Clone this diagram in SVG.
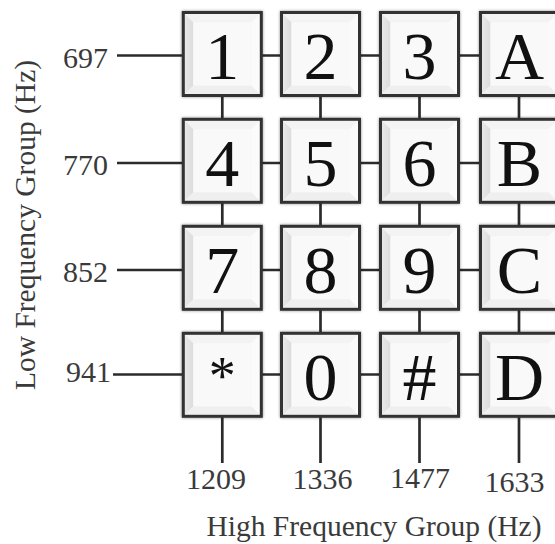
<svg xmlns="http://www.w3.org/2000/svg" xmlns:xlink="http://www.w3.org/1999/xlink" width="555" height="544" viewBox="0 0 555 544">
<style>
.ln{stroke:#2b2b2b;stroke-width:2.7;fill:none}
.key{font-family:"Liberation Serif","Times New Roman",serif;font-size:68px;fill:#111;text-anchor:middle}
.lbl{font-family:"Liberation Serif","Times New Roman",serif;font-size:30px;fill:#3a3a3a}
.ttl{font-family:"Liberation Serif","Times New Roman",serif;font-size:29.5px;fill:#3a3a3a}
</style>
<defs>
<linearGradient id="lg" x1="0" y1="0" x2="1" y2="0">
<stop offset="0" stop-color="#eaeaea"/><stop offset="1" stop-color="#dcdcdc"/>
</linearGradient>
<filter id="sh" x="-10%" y="-10%" width="120%" height="120%">
<feGaussianBlur in="SourceAlpha" stdDeviation="1.6"/>
<feComponentTransfer><feFuncA type="linear" slope="0.45"/></feComponentTransfer>
<feMerge><feMergeNode/><feMergeNode in="SourceGraphic"/></feMerge>
</filter>
<g id="box">
<g filter="url(#sh)">
<rect x="0" y="0" width="78" height="83" fill="#f7f7f7"/>
<polygon points="0,0 78,0 68,10 10,10" fill="#f3f3f3"/>
<polygon points="0,0 10,10 10,73 0,83" fill="url(#lg)"/>
<polygon points="78,0 78,83 68,73 68,10" fill="#fbfbfb"/>
<polygon points="0,83 78,83 68,73 10,73" fill="#efefef"/>
<rect x="10" y="10" width="58" height="63" fill="#f9f9f9"/>
<rect x="0" y="0" width="78" height="83" fill="none" stroke="#333" stroke-width="3"/>
</g>
</g>
</defs>
<rect width="555" height="544" fill="#ffffff"/>
<g id="connectors">
<line class="ln" x1="117" y1="55.5" x2="555" y2="55.5"/>
<line class="ln" x1="117" y1="163" x2="555" y2="163"/>
<line class="ln" x1="117" y1="270" x2="555" y2="270"/>
<line class="ln" x1="113" y1="374.5" x2="555" y2="374.5"/>
<line class="ln" x1="222.3" y1="90" x2="222.3" y2="463"/>
<line class="ln" x1="320.5" y1="90" x2="320.5" y2="463"/>
<line class="ln" x1="419.5" y1="90" x2="419.5" y2="463"/>
<line class="ln" x1="519" y1="90" x2="519" y2="463"/>
</g>
<g id="key-1"><use xlink:href="#box" x="183.3" y="12.5"/><text class="key" x="222.3" y="79">1</text></g>
<g id="key-2"><use xlink:href="#box" x="281.5" y="12.5"/><text class="key" x="320.5" y="79">2</text></g>
<g id="key-3"><use xlink:href="#box" x="380.5" y="12.5"/><text class="key" x="419.5" y="79">3</text></g>
<g id="key-A"><use xlink:href="#box" x="480.5" y="12.5"/><text class="key" x="519.5" y="79">A</text></g>
<g id="key-4"><use xlink:href="#box" x="183.3" y="119.3"/><text class="key" x="222.3" y="186">4</text></g>
<g id="key-5"><use xlink:href="#box" x="281.5" y="119.3"/><text class="key" x="320.5" y="186">5</text></g>
<g id="key-6"><use xlink:href="#box" x="380.5" y="119.3"/><text class="key" x="419.5" y="186">6</text></g>
<g id="key-B"><use xlink:href="#box" x="480.5" y="119.3"/><text class="key" x="519.5" y="186">B</text></g>
<g id="key-7"><use xlink:href="#box" x="183.3" y="226.3"/><text class="key" x="222.3" y="293">7</text></g>
<g id="key-8"><use xlink:href="#box" x="281.5" y="226.3"/><text class="key" x="320.5" y="293">8</text></g>
<g id="key-9"><use xlink:href="#box" x="380.5" y="226.3"/><text class="key" x="419.5" y="293">9</text></g>
<g id="key-C"><use xlink:href="#box" x="480.5" y="226.3"/><text class="key" x="519.5" y="293">C</text></g>
<g id="key-star"><use xlink:href="#box" x="183.3" y="333.3"/><text class="key" x="222.3" y="394" style="font-size:54px">*</text></g>
<g id="key-0"><use xlink:href="#box" x="281.5" y="333.3"/><text class="key" x="320.5" y="400">0</text></g>
<g id="key-hash"><use xlink:href="#box" x="380.5" y="333.3"/><text class="key" x="419.5" y="400">#</text></g>
<g id="key-D"><use xlink:href="#box" x="480.5" y="333.3"/><text class="key" x="519.5" y="400">D</text></g>
<g id="low-labels">
<text class="lbl" x="108" y="68" text-anchor="end">697</text>
<text class="lbl" x="108" y="175" text-anchor="end">770</text>
<text class="lbl" x="108" y="282" text-anchor="end">852</text>
<text class="lbl" x="111" y="382" text-anchor="end">941</text>
<text class="ttl" transform="translate(35,225) rotate(-90)" text-anchor="middle">Low Frequency Group (Hz)</text>
</g>
<g id="high-labels">
<text class="lbl" x="216" y="489" text-anchor="middle">1209</text>
<text class="lbl" x="322.5" y="489" text-anchor="middle">1336</text>
<text class="lbl" x="420" y="488" text-anchor="middle">1477</text>
<text class="lbl" x="514.5" y="492" text-anchor="middle">1633</text>
<text class="ttl" x="374" y="536" text-anchor="middle">High Frequency Group (Hz)</text>
</g>
</svg>
